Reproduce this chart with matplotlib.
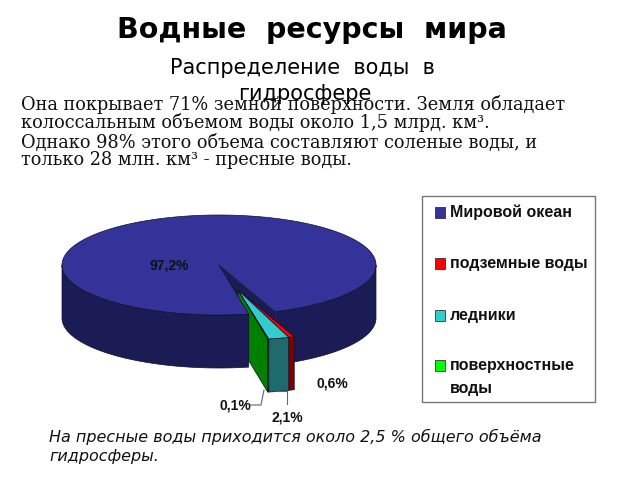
import numpy as np
import matplotlib
matplotlib.use("Agg")
import matplotlib.pyplot as plt
from matplotlib.patches import Rectangle

# Shares of the hydrosphere, percent
categories = ["Мировой океан", "подземные воды", "ледники", "поверхностные\nводы"]
shares = [97.2, 0.6, 2.1, 0.1]
share_labels = ["97,2%", "0,6%", "2,1%", "0,1%"]

top_colors = ["#333399", "#FF0000", "#33CCCC", "#00FF00"]
side_colors = ["#1B1B55", "#800000", "#1F6B6B", "#008000"]

title = "Водные  ресурсы  мира"
subtitle = ["Распределение  воды  в", "гидросфере"]
body_lines = [
    ("Она покрывает 71% земной поверхности. Земля обладает", 105),
    ("колоссальным объемом воды около 1,5 млрд. км³.", 122),
    ("Однако 98% этого объема составляют соленые воды, и", 143),
    ("только 28 млн. км³ - пресные воды.", 160),
]
note_lines = ["На пресные воды приходится около 2,5 % общего объёма", "гидросферы."]

# Pie geometry in pixels
CX, CY, RX, RY = 219.0, 265.0, 157.0, 50.0
DEPTH = 53.0
START_DEG = 69.0
PULL = (19.0, 25.0)

fig = plt.figure(figsize=(6.4, 4.8), dpi=100)
ax = fig.add_axes([0, 0, 1, 1])
ax.set_xlim(0, 640)
ax.set_ylim(480, 0)
ax.axis("off")


def rim(t0, t1, dx=0.0, dy=0.0, n=240):
    t = np.radians(np.linspace(t0, t1, n))
    return CX + dx + RX * np.cos(t), CY + dy + RY * np.sin(t)


def top_face(t0, t1, dx, dy, color, z):
    x, y = rim(t0, t1, dx, dy)
    ax.fill(np.r_[CX + dx, x], np.r_[CY + dy, y], fc=color, ec="#10102a", lw=0.5, zorder=z)


def outer_wall(t0, t1, dx, dy, color, z, edge="#10102a"):
    x, y = rim(t0, t1, dx, dy)
    ax.fill(np.r_[x, x[::-1]], np.r_[y, y[::-1] + DEPTH], fc=color, ec=edge, lw=0.5, zorder=z)


def radial_wall(t, dx, dy, color, z, edge="#10102a"):
    x, y = rim(t, t, dx, dy, n=1)
    ax.fill([CX + dx, x[0], x[0], CX + dx],
            [CY + dy, y[0], y[0] + DEPTH, CY + dy + DEPTH],
            fc=color, ec=edge, lw=0.5, zorder=z)


# Slice boundaries, walking round the ellipse from the start angle
spans = np.array(shares) * 3.6
red_a, red_b = START_DEG, START_DEG + spans[1]
ice_a, ice_b = red_b, red_b + spans[2]
srf_a, srf_b = ice_b, ice_b + spans[3]
ocean_a, ocean_b = srf_b, srf_b + spans[0]

# Ocean body: right wall and cut face sit behind the pulled-out slices
outer_wall(ocean_b - 360, 0, 0, 0, side_colors[0], 1)
radial_wall(ocean_b, 0, 0, side_colors[0], 2, edge="none")

# Pulled-out slices
dx, dy = PULL
radial_wall(srf_b, dx, dy, side_colors[3], 3)
outer_wall(red_a, red_b, dx, dy, side_colors[1], 4)
outer_wall(ice_a, ice_b, dx, dy, side_colors[2], 4)
outer_wall(srf_a, srf_b, dx, dy, side_colors[3], 4)
top_face(red_a, red_b, dx, dy, top_colors[1], 5)
top_face(ice_a, ice_b, dx, dy, top_colors[2], 5)
top_face(srf_a, srf_b, dx, dy, top_colors[3], 5)

# Front-left wall and top of the ocean lie over the slices' inner end
outer_wall(ocean_a, 180, 0, 0, side_colors[0], 6)
top_face(ocean_a, ocean_b, 0, 0, top_colors[0], 7)

# Value labels and leader lines
label_font = dict(family="Liberation Sans", fontsize=10, fontweight="bold",
                  color="#111111", ha="center", va="center", zorder=9)
ax.text(169, 265, share_labels[0], **label_font)
ax.text(332, 383, share_labels[1], **label_font)
ax.text(287, 417, share_labels[2], **label_font)
ax.text(235, 405, share_labels[3], **label_font)
ax.plot([264, 261, 250], [390, 405, 405], color="#666666", lw=0.8, zorder=8)
ax.plot([277, 287, 287], [391, 391, 404], color="#666666", lw=0.8, zorder=8)

# Legend box
ax.add_patch(Rectangle((422, 196), 173, 206, fc="white", ec="#777777", lw=1.0, zorder=1))
legend_y = [213, 264, 316, 366]
for name, color, y in zip(categories, top_colors, legend_y):
    ax.add_patch(Rectangle((435, y - 6), 10, 11, fc=color, ec="#333333", lw=0.6, zorder=2))
    ax.text(450, y - 8, name, family="Liberation Sans", fontsize=11.5, fontweight="bold",
            color="#111111", ha="left", va="top", linespacing=1.7, zorder=2)

# Headings and text blocks
ax.text(312, 30, title, family="DejaVu Sans", fontsize=20.5, fontweight="bold",
        ha="center", va="center", color="black")
ax.text(302, 68, subtitle[0], family="DejaVu Sans", fontsize=15, ha="center", va="center", color="black")
ax.text(305, 94, subtitle[1], family="DejaVu Sans", fontsize=15, ha="center", va="center", color="black")
for line, y in body_lines:
    ax.text(21, y, line, family="DejaVu Serif", fontsize=12.75, ha="left", va="center", color="#111111")
ax.text(49, 437, note_lines[0], family="DejaVu Sans", style="italic", fontsize=11.5, ha="left", va="center", color="#111111")
ax.text(49, 457, note_lines[1], family="DejaVu Sans", style="italic", fontsize=11.5, ha="left", va="center", color="#111111")

fig.savefig("out.png", dpi=100)
